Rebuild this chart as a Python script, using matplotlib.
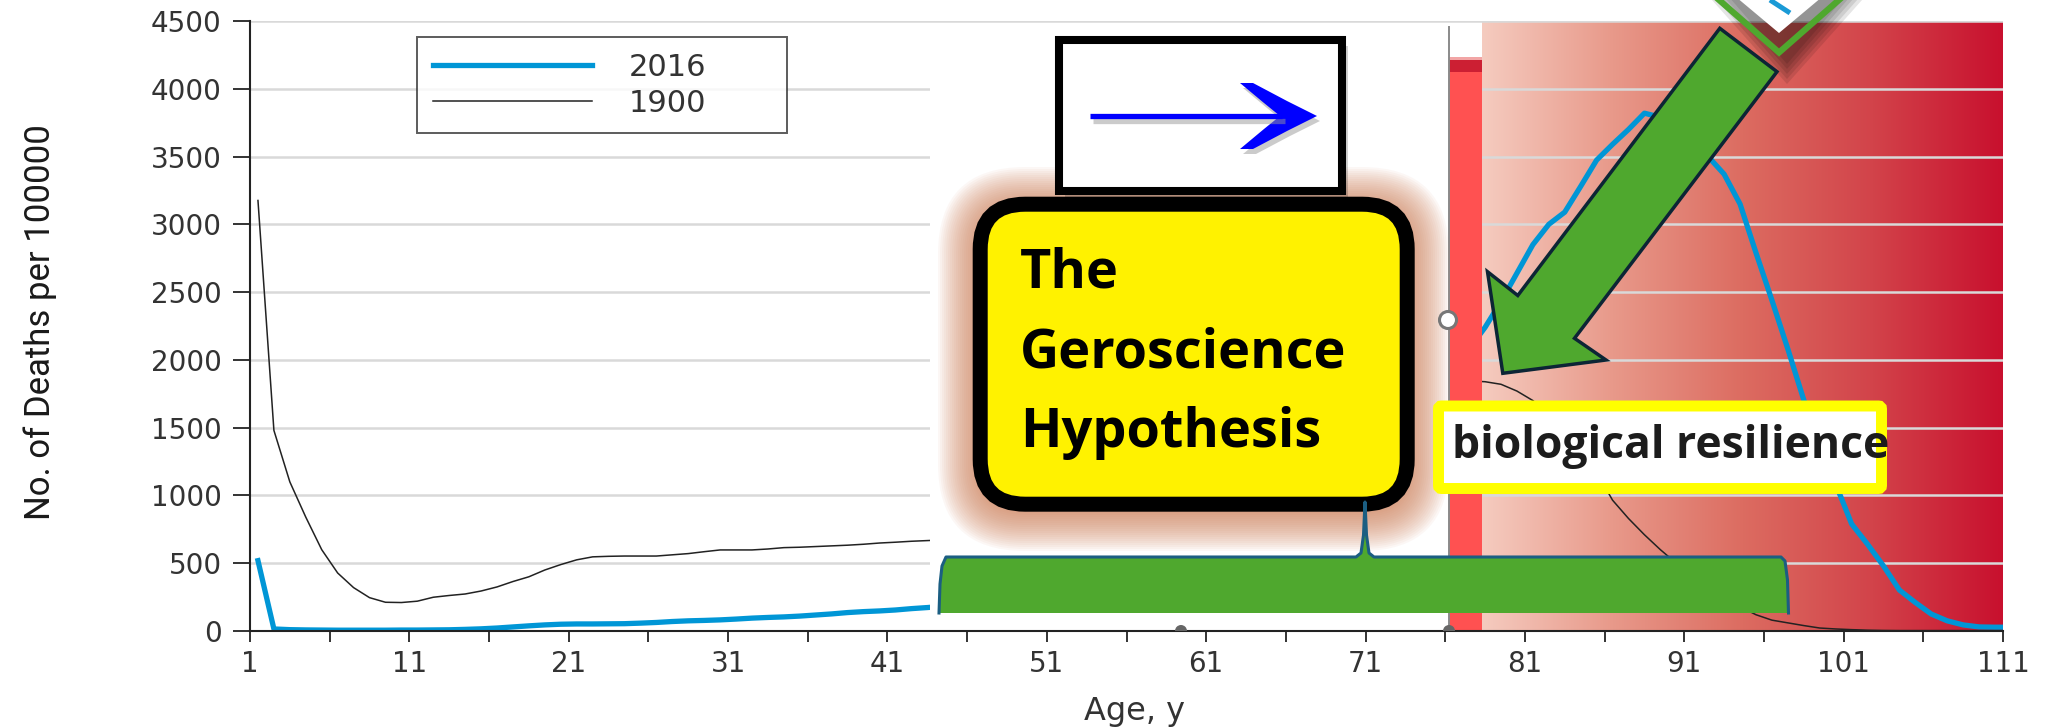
import numpy as np
import matplotlib
matplotlib.use("Agg")
import matplotlib.pyplot as plt
from matplotlib import font_manager
from matplotlib.colors import LinearSegmentedColormap
from matplotlib.patches import Rectangle, FancyBboxPatch, Polygon, Circle, Wedge

# ---- data (deaths per 100000 by age) ----
# the middle ages are hidden behind the pasted panel, so only two segments are drawn
ages_young = np.arange(1.5, 46.0, 1.0)      # 1.5 .. 45.5
d2016_young = [519, 15, 10, 8, 7, 6, 6, 6, 6, 7,
               7, 8, 9, 12, 16, 22, 30, 38, 45, 50,
               52, 52, 53, 54, 58, 63, 70, 75, 78, 82,
               88, 95, 100, 104, 110, 118, 126, 136, 143, 148,
               155, 165, 173, 182, 192]
d1900_young = [3176, 1480, 1100, 840, 600, 428, 320, 246, 212, 210,
               220, 249, 262, 273, 295, 325, 365, 400, 450, 490,
               525, 547, 551, 553, 553, 553, 562, 571, 585, 598,
               598, 598, 605, 615, 618, 623, 628, 633, 640, 649,
               655, 662, 667, 672, 678]

ages_old = np.arange(76.5, 112.0, 1.0)      # 76.5 .. 111.5
d2016_old = [1950, 2080, 2240, 2430, 2640, 2850, 3000, 3090, 3280, 3474,
             3590, 3700, 3820, 3790, 3720, 3610, 3500, 3370, 3150, 2790,
             2440, 2080, 1704, 1395, 1085, 790, 640, 480, 302, 210,
             125, 75, 45, 30, 28, 28]
d1900_old = [1830, 1845, 1839, 1820, 1770, 1700, 1600, 1480, 1340, 1170,
             965, 830, 710, 600, 500, 410, 330, 250, 180, 120,
             80, 60, 40, 22, 15, 10, 6, 4, 3, 3,
             3, 3, 3, 3, 3, 3]

x_major = np.arange(1, 112, 10)
x_minor = np.arange(6, 112, 10)
y_ticks = np.arange(0, 4501, 500)

installed = {f.name for f in font_manager.fontManager.ttflist}


def pick(*names):
    for n in names:
        if n in installed:
            return n
    return "DejaVu Sans"


narrow = pick("Liberation Sans Narrow", "Roboto", "Liberation Sans")
callout = pick("Open Sans", "Noto Sans", "DejaVu Sans")

BLUE = "#0096d6"
GREEN = "#4fa82e"

fig = plt.figure(figsize=(20.64, 7.28), dpi=100)
ax = fig.add_axes([250 / 2064, 97 / 728, 1753 / 2064, 610 / 728])

# red "risk" gradient behind the old ages
risk = LinearSegmentedColormap.from_list(
    "risk", ["#f5cbbf", "#e8998a", "#dc6c61", "#d2434a", "#c8102e"])
ax.imshow(np.linspace(0, 1, 256)[None, :], cmap=risk, aspect="auto",
          extent=[78.31, 111.04, 0, 4487], zorder=0.2, interpolation="bilinear")

ax.plot(ages_young, d2016_young, color=BLUE, lw=3.8, zorder=1, label="2016")
ax.plot(ages_old, d2016_old, color=BLUE, lw=3.8, zorder=1)
ax.plot(ages_young, d1900_young, color="#222222", lw=1.1, zorder=1, label="1900")
ax.plot(ages_old, d1900_old, color="#222222", lw=1.1, zorder=1)

# pasted white panel + red marker band
ax.add_patch(Rectangle((43.67, 0), 78.31 - 43.67, 4456, facecolor="white",
                       edgecolor="none", zorder=1.5))
ax.add_patch(Rectangle((76.24, 0), 2.07, 4124, facecolor="#ff5151",
                       edgecolor="none", zorder=1.6))
ax.add_patch(Rectangle((76.24, 4124), 2.07, 88, facecolor="#cc1f33",
                       edgecolor="none", zorder=1.6))
ax.add_patch(Rectangle((76.24, 4212), 2.07, 22, facecolor="#f2a5a5",
                       edgecolor="none", zorder=1.6))
ax.plot([76.24, 76.24], [0, 4456], color="#8a8a8a", lw=1.4, zorder=1.7)

ax.set_xlim(1, 111)
ax.set_ylim(0, 4500)
ax.set_axisbelow(True)
ax.yaxis.grid(True, color="#d9d9d9", lw=1.8)
ax.set_xticks(x_major)
ax.set_xticks(x_minor, minor=True)
ax.set_yticks(y_ticks)
ax.tick_params(axis="x", which="both", direction="out", length=7.9, width=1.4,
               color="#333333", pad=6, labelsize=20, labelcolor="#333333")
ax.tick_params(axis="y", direction="out", length=12.5, width=1.4,
               color="#333333", pad=8, labelsize=20, labelcolor="#333333")
for side in ("top", "right"):
    ax.spines[side].set_visible(False)
for side in ("left", "bottom"):
    ax.spines[side].set_color("#222222")
    ax.spines[side].set_linewidth(1.5)

leg = ax.legend(loc="upper left", bbox_to_anchor=(0.0954, 0.8743, 0.2107, 0.1),
                mode="expand", borderaxespad=0, fontsize=22, handlelength=5.2,
                handletextpad=1.2, borderpad=0.52, labelspacing=0.23,
                fancybox=False)
leg.get_frame().set_edgecolor("#333333")
leg.get_frame().set_linewidth(1.4)
for t in leg.get_texts():
    t.set_color("#333333")

fig.text(40 / 2064, 1 - 322 / 728, "No. of Deaths per 100000", rotation=90,
         ha="center", va="center", fontsize=25, family=narrow, color="#1a1a1a")
fig.text(1135 / 2064, 1 - 720 / 728, "Age, y", ha="center", va="baseline",
         fontsize=23, color="#333333")

# ---- pasted annotation graphics, in pixel coordinates ----
ov = fig.add_axes([0, 0, 1, 1])
ov.set_xlim(0, 2064)
ov.set_ylim(728, 0)
ov.axis("off")

# orange glow round the yellow box
for pad in range(42, 0, -2):
    ov.add_patch(FancyBboxPatch((980, 209), 427, 300,
                                boxstyle=f"round,pad={pad},rounding_size={45 + pad}",
                                facecolor="#cf7f56", edgecolor="none", alpha=0.055))

# white box with the blue arrow
ov.add_patch(Rectangle((1065, 46), 283, 151, facecolor="black", alpha=0.18,
                       edgecolor="none"))
ov.add_patch(Rectangle((1059, 40), 283, 151, facecolor="white", edgecolor="black",
                       lw=5.8, joinstyle="miter"))
head = [(1240, 83), (1253, 83), (1287, 101), (1317, 116), (1287, 131), (1253, 149),
        (1240, 149), (1264, 129), (1280, 116), (1264, 103)]
ov.plot([1093, 1285], [121, 121], color="#999999", lw=3.8, alpha=0.5,
        solid_capstyle="butt")
ov.add_patch(Polygon([(x + 3, y + 5) for x, y in head], closed=True,
                     facecolor="#999999", alpha=0.5, edgecolor="none"))
ov.plot([1090, 1282], [116, 116], color="#0000ff", lw=3.8, solid_capstyle="butt")
ov.add_patch(Polygon(head, closed=True, facecolor="#0000ff", edgecolor="none"))

# yellow rounded callout
ov.add_patch(FancyBboxPatch((980.2, 204.2), 427, 300,
                            boxstyle="round,pad=0,rounding_size=45",
                            facecolor="#fff200", edgecolor="black", lw=10.8))
for word, base in (("The", 288), ("Geroscience", 368), ("Hypothesis", 447)):
    ov.text(1020, base, word, fontsize=39, fontweight="bold", family=callout,
            color="black", va="baseline", ha="left")

# green curly bracket
brace = [(939, 613), (940, 584), (942, 566), (946, 557), (1356, 557), (1361, 553),
         (1363.5, 535), (1365, 502), (1366.5, 535), (1369, 553), (1374, 557),
         (1781, 557), (1785, 561), (1787.5, 580), (1788.5, 613)]
ov.add_patch(Polygon(brace, closed=True, facecolor=GREEN, edgecolor="none"))
ov.plot([p[0] for p in brace], [p[1] for p in brace], color="#1b5e82", lw=2.2)

# diamond at the top edge (shadow, green frame, white face)
for g in range(0, 25, 5):
    ov.add_patch(Polygon([(1723 - g, -10), (1787, 64 + g), (1851 + g, -10)],
                         closed=True, facecolor="black", alpha=0.1, edgecolor="none"))
ov.add_patch(Polygon([(1736, -3), (1779, 33), (1822, -3)], closed=True,
                     facecolor="white", edgecolor="none"))
ov.plot([1770, 1790], [0, 13], color="#1a9ad6", lw=3.6, solid_capstyle="butt")
ov.plot([1710, 1779, 1848], [-8, 52.5, -8], color=GREEN, lw=4.5,
        solid_joinstyle="miter")

# big green arrow
arrow = [(1719.8, 28.3), (1777, 71.7), (1574.5, 338.3), (1606, 360),
         (1502.8, 373.3), (1487.5, 271.7), (1517.8, 295.5)]
ov.add_patch(Polygon(arrow, closed=True, facecolor=GREEN, edgecolor="#0c2535",
                     lw=2.5, joinstyle="miter"))

# "biological resilience" label
ov.add_patch(FancyBboxPatch((1438.5, 406), 443, 82.5,
                            boxstyle="round,pad=0,rounding_size=3",
                            facecolor="white", edgecolor="#ffff00", lw=7.9))
ov.text(1452, 458.3, "biological resilience", fontsize=32, fontweight="bold",
        family=callout, color="#1c1c1c", va="baseline", ha="left")

# selection handles left over on the pasted panel
ov.add_patch(Circle((1448, 320), 8.5, facecolor="white", edgecolor="#777777", lw=2.2))
for hx in (1181, 1449):
    ov.add_patch(Wedge((hx, 631), 6, 180, 360, facecolor="#666666", edgecolor="none"))

fig.savefig("out.png", dpi=100)
